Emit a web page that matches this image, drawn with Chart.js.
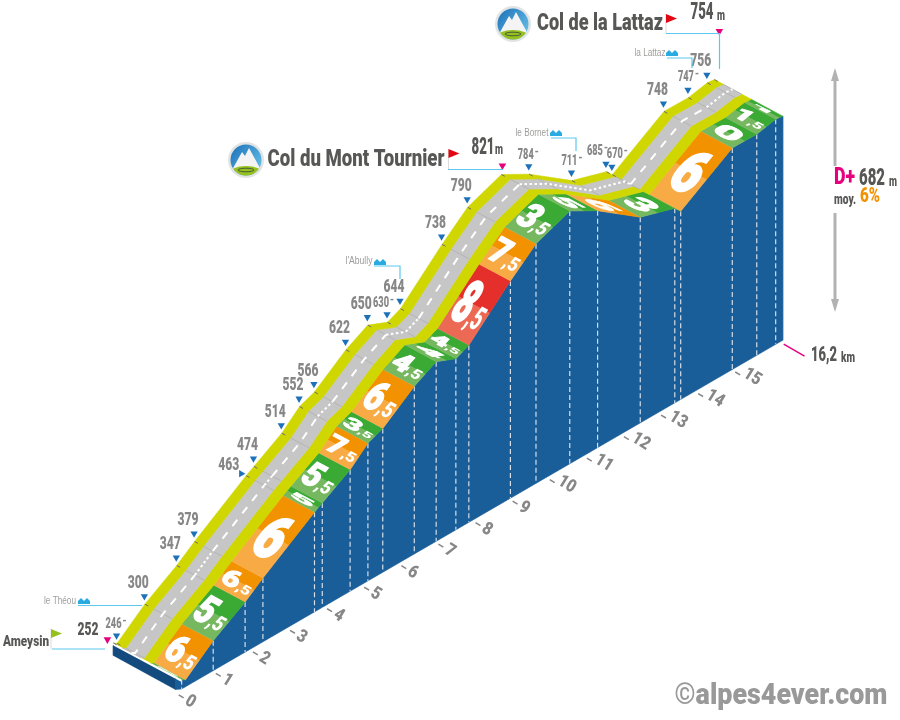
<!DOCTYPE html>
<html>
<head>
<meta charset="utf-8">
<title>Col du Mont Tournier - Col de la Lattaz</title>
<script src="https://cdn.jsdelivr.net/npm/chart.js@4/dist/chart.umd.min.js"></script>
<style>
html, body { margin: 0; padding: 0; background: #fff; overflow: hidden; }
#wrap { position: relative; width: 900px; height: 720px; }
</style>
</head>
<body>
<div id="wrap"><canvas id="myChart"></canvas></div>
<script>
// profile stops
const stopKm = [0, 0.1, 0.85, 1.71, 2.19, 3.58, 3.79, 4.54, 5.02, 5.42, 6.27, 6.86, 7.39, 7.74, 8.86, 9.55, 10.46, 11.21, 12.36, 13.29, 13.45, 14.84, 15.5, 16.01, 16.2];
const stopAlt = [252, 246, 300, 347, 379, 463, 474, 514, 552, 566, 622, 650, 630, 644, 738, 790, 821, 784, 711, 685, 670, 748, 747, 756, 754];
const segGrades = ['5', '6,5', '5,5', '6,5', '6', '5', '5,5', '7,5', '3,5', '6,5', '4,5', '4', '4,5', '8,5', '7,5', '3,5', '5', '6', '3', '', '6', '0', '1,5', '1'];
const kmTicks = [0, 1, 2, 3, 4, 5, 6, 7, 8, 9, 10, 11, 12, 13, 14, 15];
const smallStops = [1, 12, 17, 18, 19, 20, 22];
const summitStops = [0, 16, 24];
const fineDashSegs = [3, 5, 8, 11, 12, 16, 17, 18, 19, 22, 23];

// oblique projection of the hidden linear axes
const KM_PX = 37.47, ALT_PX = 0.433;
const ORIGIN_X = 179, ORIGIN_Y = 693, BASE_ALT = 230;
const SKEW = 21.79 / ALT_PX;
const DEPTH_KM = 69 / KM_PX, DEPTH_ALT = 37 / ALT_PX;

const BLUE = '#1a5e99', NAVY = '#134b7e', YELLOW = '#cfd600', ROAD = '#c6c6c6';
const GREY_TXT = '#878787', DARK_TXT = '#575756', PINK = '#e6007e', CYAN = '#5cc8ee', MARK = '#1d71b8';
const HEAVY = 'Roboto';

function proj(km, alt, depth) {
    return { x: km - depth * DEPTH_KM, y: alt - BASE_ALT + km * SKEW + depth * DEPTH_ALT };
}
// dx to the right, dy upwards, in pixels
function shift(p, dx, dy) {
    return { x: p.x + dx / KM_PX, y: p.y + dy / ALT_PX };
}
function gradeColors(g) {
    var v = parseFloat(g.replace(',', '.'));
    if (v >= 8) return ['#e42f2a', '#ec6a53'];
    if (v >= 6 && v < 8) return ['#f39200', '#f8ab45'];
    return ['#3aaa35', '#76b85f'];
}

var datasets = [];
function poly(points, color) {
    datasets.push({ data: points, backgroundColor: color, borderColor: color, borderWidth: 0.6, fill: 'shape', showLine: true, pointRadius: 0, tension: 0 });
}
function lines(points, color, width, dash) {
    datasets.push({ data: points, borderColor: color, borderWidth: width, borderDash: dash || [], fill: false, showLine: true, pointRadius: 0, tension: 0, spanGaps: false });
}
function strip(d0, d1, color) {
    var pts = stopKm.map((k, i) => proj(k, stopAlt[i], d0));
    for (var i = stopKm.length - 1; i >= 0; i--) pts.push(proj(stopKm[i], stopAlt[i], d1));
    poly(pts, color);
}

// blue wall
var wall = stopKm.map((k, i) => proj(k, stopAlt[i], 0));
wall.push(proj(16.2, BASE_ALT, 0));
wall.push(proj(0, BASE_ALT, 0));
poly(wall, BLUE);

// front block
poly([proj(0, 246, 1), proj(0, 223, 1), proj(0, 221, 0.09), proj(0, 246, 0.09)], NAVY);
poly([proj(0, 246, 0.09), proj(0, 221, 0.09), proj(0, BASE_ALT, 0), proj(0, 246, 0)], BLUE);

// dashed verticals on the wall
var verts = [];
stopKm.forEach((k, i) => {
    if (i == 1 || i == 24) return;
    verts.push(proj(k, stopAlt[i], 0), proj(k, BASE_ALT, 0), { x: null, y: null });
});
lines(verts, '#d3deea', 1.2, [5, 3]);

// grade band, each piece has a dark upper half and a light lower half
segGrades.forEach((g, i) => {
    var c = gradeColors(g);
    var k0 = stopKm[i], k1 = stopKm[i + 1], a0 = stopAlt[i], a1 = stopAlt[i + 1];
    var km = (k0 + k1) / 2, am = (a0 + a1) / 2;
    poly([proj(k0, a0, 0), proj(km, am, 0), proj(km, am, 0.46), proj(k0, a0, 0.46)], c[1]);
    poly([proj(km, am, 0), proj(k1, a1, 0), proj(k1, a1, 0.46), proj(km, am, 0.46)], c[0]);
});

// road
strip(0.46, 0.6, YELLOW);
strip(0.6, 0.87, ROAD);
strip(0.87, 1, YELLOW);

var seams = [], edgeTicks = [];
stopKm.forEach((k, i) => {
    seams.push(proj(k, stopAlt[i], 0.6), proj(k, stopAlt[i], 0.87), { x: null, y: null });
    edgeTicks.push(proj(k, stopAlt[i], 0.95), proj(k, stopAlt[i], 1), { x: null, y: null });
});
lines(seams, '#afafaf', 0.8);
lines(edgeTicks, '#6f6f6f', 1);

// centre line
datasets.push({
    data: stopKm.map((k, i) => proj(k, stopAlt[i], 0.735)),
    borderColor: '#fff', borderWidth: 2, borderDash: [8, 8], fill: false, showLine: true, pointRadius: 0, tension: 0,
    segment: { borderDash: ctx => fineDashSegs.includes(ctx.p0DataIndex) ? [2.5, 2.5] : undefined }
});

// km ticks under the base line
var kmMarks = [];
kmTicks.forEach(k => {
    var b = proj(k, BASE_ALT, 0);
    kmMarks.push(shift(b, -3, -6), shift(b, 2, -9), { x: null, y: null });
});
lines(kmMarks, GREY_TXT, 1.5);
lines([shift(proj(16.2, BASE_ALT, 0), 1, -4), shift(proj(16.2, BASE_ALT, 0), 22, -16)], PINK, 1.5);

// markers above the stops
var blueStops = stopKm.map((k, i) => i).filter(i => !summitStops.includes(i));
datasets.push({
    data: blueStops.map(i => shift(proj(stopKm[i], stopAlt[i], 1), i == 5 ? -5 : -0.5, i == 5 ? 2 : 8)),
    showLine: false, pointStyle: 'triangle', pointRadius: 4.2, pointBorderWidth: 0,
    backgroundColor: MARK, borderColor: MARK,
    pointRotation: ctx => blueStops[ctx.dataIndex] == 5 ? 90 : 180
});
datasets.push({
    data: [
        shift(proj(stopKm[0], stopAlt[0], 1), -6, 3.5),
        shift(proj(stopKm[16], stopAlt[16], 1), 1, 9),
        shift(proj(stopKm[24], stopAlt[24], 1), 5, 49)
    ],
    showLine: false, pointStyle: 'triangle', pointRadius: 4.4, pointBorderWidth: 0,
    backgroundColor: PINK, borderColor: PINK, pointRotation: 180
});
datasets.forEach((d, i) => { d.order = -i; d.clip = false; });

// label shift from the marker, the usual one is (-6, -13)
const labelNudge = { 1: [-3, -11], 5: [-17, -2], 12: [-6, -11], 17: [-3, -11], 18: [-2, -11], 19: [-11, -12], 20: [3, -12], 22: [-2, -12] };

function txt(ctx, s, x, y, o) {
    ctx.save();
    ctx.translate(x, y);
    if (o.rot) ctx.rotate(o.rot);
    ctx.font = (o.weight || 900) + ' ' + o.size + 'px ' + (o.family || HEAVY);
    ctx.textAlign = o.align || 'center';
    ctx.textBaseline = 'middle';
    ctx.fillStyle = o.color;
    if (o.w) ctx.scale(o.w / ctx.measureText(s).width, 1);
    ctx.fillText(s, 0, 0);
    ctx.restore();
}
function seg(ctx, pts, color, width) {
    ctx.beginPath();
    ctx.moveTo(pts[0], pts[1]);
    for (var i = 2; i < pts.length; i += 2) ctx.lineTo(pts[i], pts[i + 1]);
    ctx.strokeStyle = color;
    ctx.lineWidth = width;
    ctx.stroke();
}
function flag(ctx, x, y0, y1, color, poleTo) {
    seg(ctx, [x, y0, x, poleTo], '#d0d0d0', 0.8);
    ctx.beginPath();
    ctx.moveTo(x, y0);
    ctx.lineTo(x + 11, y0 + 4.5);
    ctx.lineTo(x, y1);
    ctx.closePath();
    ctx.fillStyle = color;
    ctx.fill();
}
function house(ctx, x, y) {
    ctx.fillStyle = '#29abe2';
    [x - 3, x + 3].forEach(h => {
        ctx.beginPath();
        ctx.moveTo(h - 3, y + 3);
        ctx.lineTo(h - 3, y);
        ctx.lineTo(h, y - 3);
        ctx.lineTo(h + 3, y);
        ctx.lineTo(h + 3, y + 3);
        ctx.closePath();
        ctx.fill();
    });
}
function badge(ctx, x, y) {
    ctx.save();
    ctx.beginPath();
    ctx.arc(x, y, 18, 0, Math.PI * 2);
    ctx.fillStyle = '#e2e4e4';
    ctx.fill();
    ctx.beginPath();
    ctx.arc(x, y, 15.5, 0, Math.PI * 2);
    var g = ctx.createLinearGradient(x - 15, y - 15, x + 15, y + 10);
    g.addColorStop(0, '#1d71b8');
    g.addColorStop(1, '#66bfe8');
    ctx.fillStyle = g;
    ctx.fill();
    ctx.clip();
    ctx.beginPath();
    ctx.moveTo(x - 14, y + 10);
    ctx.lineTo(x - 4, y - 8);
    ctx.lineTo(x - 1, y - 4);
    ctx.lineTo(x + 3, y - 12);
    ctx.lineTo(x + 15, y + 10);
    ctx.closePath();
    ctx.fillStyle = '#f4f4f4';
    ctx.fill();
    ctx.beginPath();
    ctx.ellipse(x, y + 14, 17, 8, 0, 0, Math.PI * 2);
    ctx.fillStyle = '#95c11f';
    ctx.fill();
    ctx.beginPath();
    ctx.ellipse(x, y + 10, 8, 1.8, 0, 0, Math.PI * 2);
    ctx.strokeStyle = '#4a5a3a';
    ctx.lineWidth = 1;
    ctx.stroke();
    ctx.restore();
}
// white grade figure, sheared onto its piece of the band
function gradeText(ctx, g, sx, sy, i) {
    if (!g) return;
    var pix = (k, a, d) => {
        var p = proj(k, a, d);
        return { x: sx.getPixelForValue(p.x), y: sy.getPixelForValue(p.y) };
    };
    var k0 = stopKm[i], k1 = stopKm[i + 1], a0 = stopAlt[i], a1 = stopAlt[i + 1];
    var p0 = pix(k0, a0, 0), p1 = pix(k1, a1, 0);
    var c = pix((k0 + k1) / 2, (a0 + a1) / 2, 0.23);
    var vx = (p1.x - p0.x) * 0.58, vy = (p1.y - p0.y) * 0.58;
    var len = Math.hypot(vx, vy);
    if (len > 46) { vx *= 46 / len; vy *= 46 / len; }
    var parts = g.split(',');
    var frac = parts[1] ? ',' + parts[1] : '';
    ctx.save();
    ctx.font = '900 100px ' + HEAVY;
    var w0 = ctx.measureText(parts[0]).width;
    ctx.font = '900 55px ' + HEAVY;
    var w1 = frac ? ctx.measureText(frac).width : 0;
    var total = w0 + w1;
    var target = (frac ? 32 : 26) / total;
    var ux = 69 / 78.3, uy = 37 / 78.3;
    ctx.transform(ux * target, uy * target, -vx / 71, -vy / 71, c.x, c.y);
    ctx.fillStyle = '#fff';
    ctx.strokeStyle = '#fff';
    ctx.lineWidth = 4;
    ctx.textAlign = 'left';
    ctx.textBaseline = 'alphabetic';
    ctx.font = '900 100px ' + HEAVY;
    ctx.fillText(parts[0], -total / 2, 35.5);
    ctx.strokeText(parts[0], -total / 2, 35.5);
    if (frac) {
        ctx.font = '900 55px ' + HEAVY;
        ctx.fillText(frac, -total / 2 + w0, 35.5);
    }
    ctx.restore();
}

const overlay = {
    id: 'overlay',
    afterDatasetsDraw(chart) {
        var ctx = chart.ctx, sx = chart.scales.x, sy = chart.scales.y;
        var at = p => ({ x: sx.getPixelForValue(p.x), y: sy.getPixelForValue(p.y) });

        segGrades.forEach((g, i) => gradeText(ctx, g, sx, sy, i));

        // altitude labels
        stopKm.forEach((k, i) => {
            if (summitStops.includes(i)) return;
            var m = at(shift(proj(k, stopAlt[i], 1), -0.5, 8));
            var n = labelNudge[i] || [-6, -13];
            var small = smallStops.includes(i);
            txt(ctx, String(stopAlt[i]), m.x + n[0], m.y + n[1], { size: small ? 14 : 18, w: small ? 16 : 21, color: GREY_TXT });
            if (small) txt(ctx, '-', m.x + n[0] + 11, m.y + n[1] - 3, { size: 10, color: GREY_TXT });
        });

        // km numbers along the base
        kmTicks.forEach(k => {
            var b = at(proj(k, BASE_ALT, 0));
            var off = k < 10 ? [8.5, 13] : [14, 11];
            txt(ctx, String(k), b.x + off[0], b.y + off[1], { size: 18, w: k < 10 ? 9 : 18, color: GREY_TXT, rot: 0.55 });
        });

        // start
        txt(ctx, 'Ameysin', 26, 642, { size: 15, w: 46, color: DARK_TXT });
        flag(ctx, 51, 629, 638, '#95c11f', 649);
        seg(ctx, [52, 649, 105, 649], CYAN, 1.2);
        txt(ctx, '252', 88, 630, { size: 18, w: 21, color: DARK_TXT });

        // le Théou
        txt(ctx, 'le Théou', 60, 601, { size: 10, w: 32, weight: 400, family: 'Liberation Sans', color: '#9d9d9c' });
        house(ctx, 84, 601);
        seg(ctx, [78, 605.5, 142, 605.5], CYAN, 1.2);

        // l'Abully
        txt(ctx, "l'Abully", 359, 261, { size: 10, w: 27, weight: 400, family: 'Liberation Sans', color: '#9d9d9c' });
        house(ctx, 380, 262);
        seg(ctx, [374, 266, 400, 266, 400, 279], CYAN, 1.2);

        // le Bornet
        txt(ctx, 'le Bornet', 532, 133, { size: 10, w: 33, weight: 400, family: 'Liberation Sans', color: '#9d9d9c' });
        house(ctx, 556, 133);
        seg(ctx, [551, 138, 576, 138, 576, 151], CYAN, 1.2);

        // la Lattaz
        txt(ctx, 'la Lattaz', 650, 53, { size: 10, w: 31, weight: 400, family: 'Liberation Sans', color: '#9d9d9c' });
        house(ctx, 672, 53);
        seg(ctx, [667, 58, 692, 58, 692, 68], CYAN, 1.2);

        // Col du Mont Tournier
        badge(ctx, 246, 160);
        txt(ctx, 'Col du Mont Tournier', 356, 160, { size: 23.5, w: 177, color: DARK_TXT });
        flag(ctx, 448.5, 149, 158, '#e30613', 169);
        seg(ctx, [448, 169.5, 503, 169.5], CYAN, 1.2);
        txt(ctx, '821', 483, 148, { size: 23, w: 23, color: DARK_TXT });
        txt(ctx, 'm', 499, 150, { size: 14, w: 8, color: DARK_TXT });

        // Col de la Lattaz
        badge(ctx, 513, 24);
        txt(ctx, 'Col de la Lattaz', 600, 24, { size: 23.5, w: 126, color: DARK_TXT });
        flag(ctx, 666, 14, 23, '#e30613', 33);
        seg(ctx, [666, 33.5, 719.5, 33.5, 719.5, 69], CYAN, 1.2);
        txt(ctx, '754', 702, 13, { size: 23, w: 23, color: DARK_TXT });
        txt(ctx, 'm', 721, 16, { size: 14, w: 8, color: DARK_TXT });

        // height arrow
        seg(ctx, [835, 76, 835, 166], '#b2b2b2', 3);
        seg(ctx, [835, 213, 835, 304], '#b2b2b2', 3);
        [[835, 68, -1], [835, 312, 1]].forEach(a => {
            ctx.beginPath();
            ctx.moveTo(a[0], a[1]);
            ctx.lineTo(a[0] - 4, a[1] - a[2] * 13);
            ctx.lineTo(a[0] + 4, a[1] - a[2] * 13);
            ctx.closePath();
            ctx.fillStyle = '#b2b2b2';
            ctx.fill();
        });
        txt(ctx, 'D+', 844.5, 178, { size: 24, w: 21, color: PINK });
        txt(ctx, '682', 872, 179, { size: 23, w: 26, color: DARK_TXT });
        txt(ctx, 'm', 893, 182, { size: 14, w: 8, color: DARK_TXT });
        txt(ctx, 'moy.', 845, 200, { size: 15, w: 22, color: DARK_TXT });
        txt(ctx, '6%', 870, 197, { size: 21, w: 20, color: '#f39200' });

        // total distance
        txt(ctx, '16,2', 824, 356, { size: 21, w: 26, color: DARK_TXT });
        txt(ctx, 'km', 848, 358, { size: 14, w: 14, color: DARK_TXT });

        // credit
        txt(ctx, '©alpes4ever.com', 781, 697, { size: 29, w: 213, color: '#999999' });
    }
};

Chart.defaults.font.family = HEAVY;
const ctx = document.getElementById('myChart').getContext('2d');
const myChart = new Chart(ctx, {
    type: 'scatter',
    data: { datasets: datasets },
    plugins: [overlay],
    options: {
        responsive: true,
        maintainAspectRatio: false,
        animation: false,
        layout: { padding: 0 },
        events: [],
        plugins: { legend: { display: false }, tooltip: { enabled: false } },
        scales: {
            x: { type: 'linear', display: false, min: -ORIGIN_X / KM_PX, max: (900 - ORIGIN_X) / KM_PX },
            y: { type: 'linear', display: false, min: -(720 - ORIGIN_Y) / ALT_PX, max: ORIGIN_Y / ALT_PX }
        }
    }
});
</script>
</body>
</html>
